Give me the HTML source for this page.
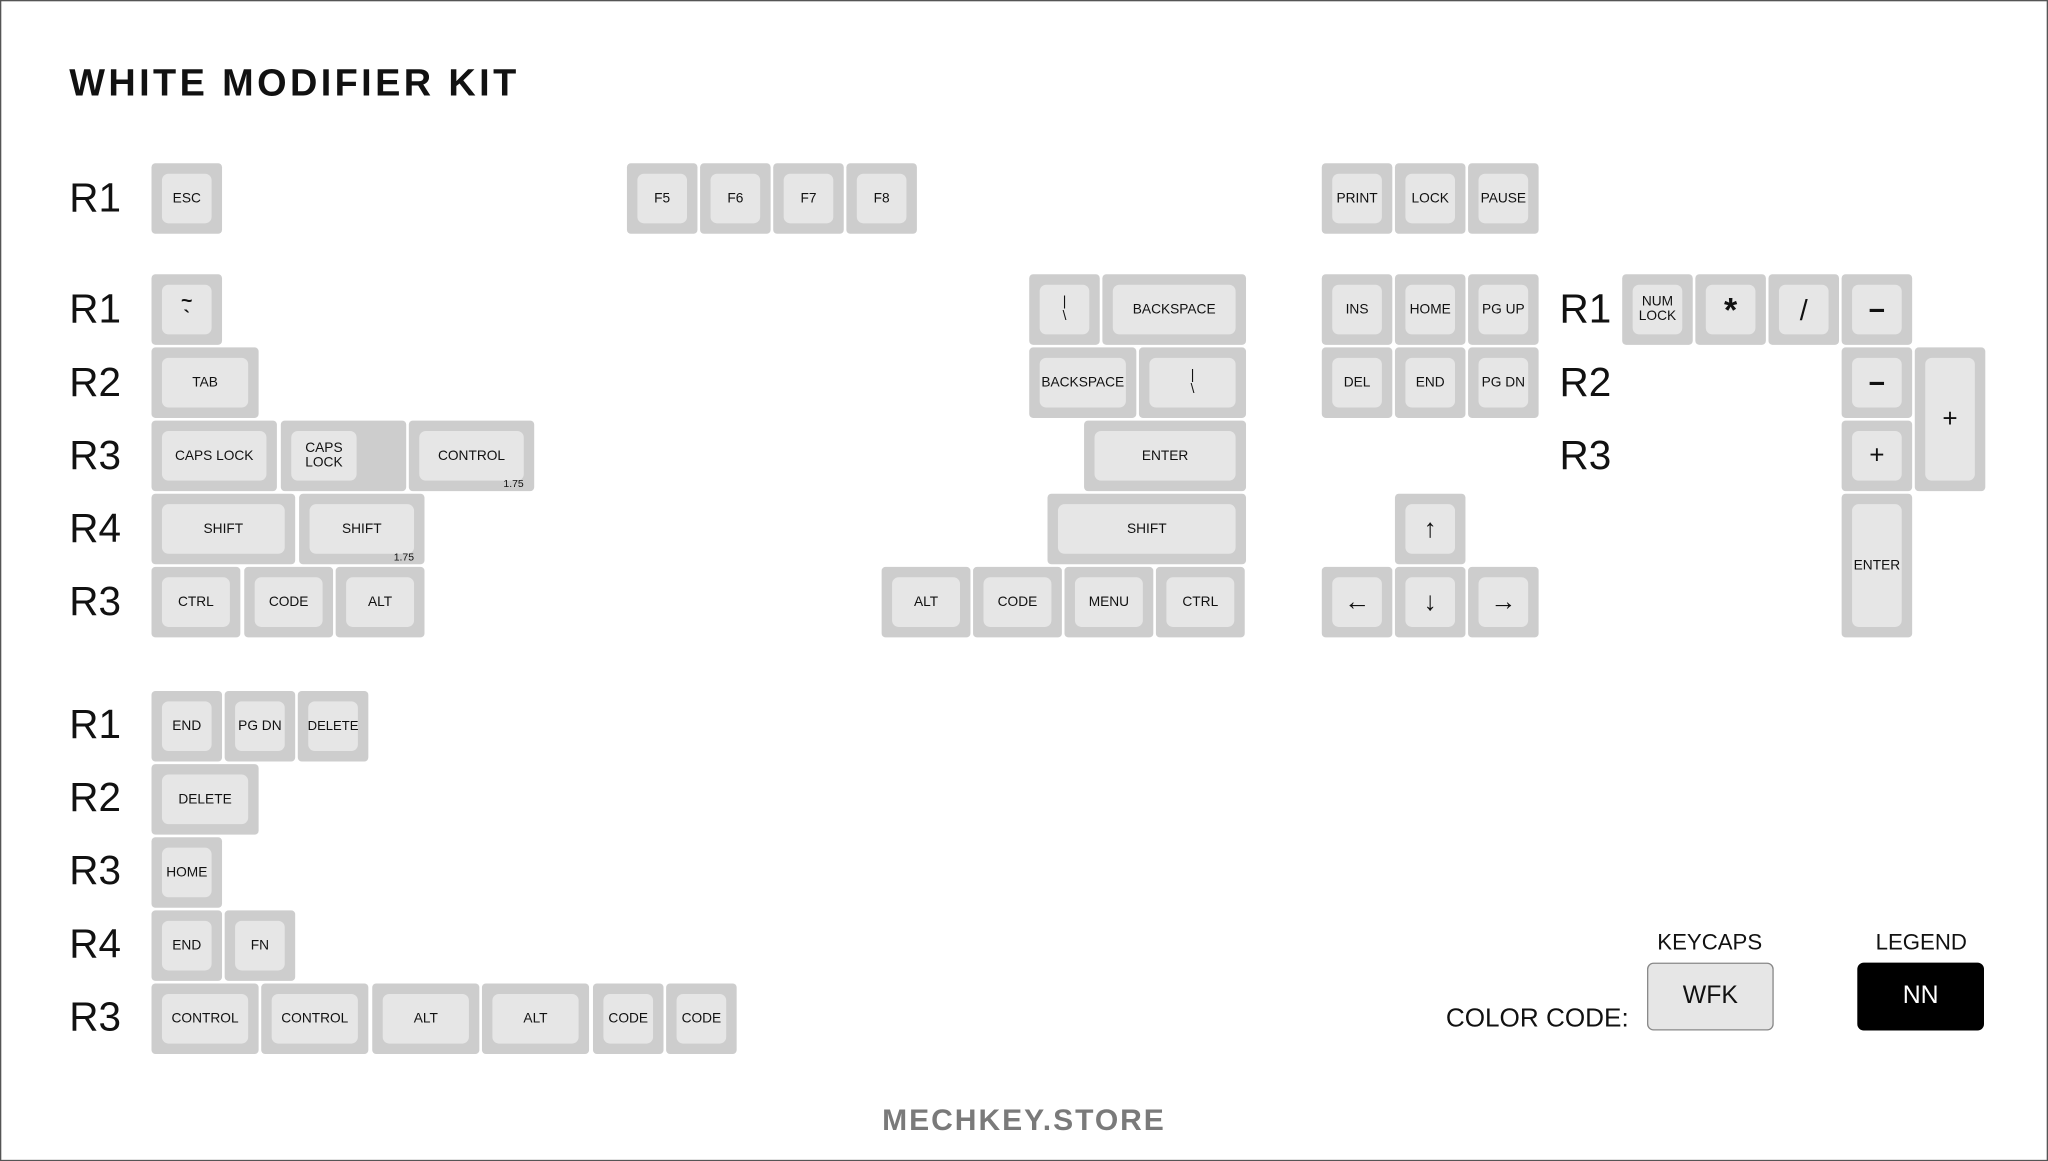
<!DOCTYPE html>
<html><head><meta charset="utf-8"><style>
html,body{margin:0;padding:0;background:#fff;}
body{width:2048px;height:1161px;overflow:hidden;position:relative;font-family:"Liberation Sans",sans-serif;}
#w{position:absolute;left:0;top:0;width:1568px;height:889px;transform:scale(1.30612);transform-origin:0 0;}
#bd{position:absolute;left:0;top:0;width:1566px;height:887px;border:1px solid #555;}
.k{position:absolute;background:#cdcdcd;border-radius:3px;height:54px;}
.t{height:110px;}
.i{position:absolute;left:8px;right:8px;top:8px;bottom:8px;background:#e6e6e6;border-radius:5px;display:flex;align-items:center;justify-content:center;text-align:center;font-size:10.5px;line-height:11px;color:#111;}
.s{font-size:8px;position:absolute;right:8px;bottom:1px;color:#111;}
.r{position:absolute;font-size:31px;color:#111;line-height:32px;}
</style></head><body><div id="w"><div id="bd"></div>
<div style="position:absolute;left:53px;top:48px;font-size:29px;font-weight:bold;letter-spacing:2.6px;color:#111;">WHITE MODIFIER KIT</div>

<div class="r" style="left:53px;top:136px">R1</div>
<div class="r" style="left:53px;top:221px">R1</div>
<div class="r" style="left:53px;top:277px">R2</div>
<div class="r" style="left:53px;top:333px">R3</div>
<div class="r" style="left:53px;top:389px">R4</div>
<div class="r" style="left:53px;top:445px">R3</div>
<div class="r" style="left:53px;top:539px">R1</div>
<div class="r" style="left:53px;top:595px">R2</div>
<div class="r" style="left:53px;top:651px">R3</div>
<div class="r" style="left:53px;top:707px">R4</div>
<div class="r" style="left:53px;top:763px">R3</div>
<div class="r" style="left:1194px;top:221px">R1</div>
<div class="r" style="left:1194px;top:277px">R2</div>
<div class="r" style="left:1194px;top:333px">R3</div>

<div class="k" style="left:116px;top:125px;width:54px"><div class="i">ESC</div></div>
<div class="k" style="left:480px;top:125px;width:54px"><div class="i">F5</div></div>
<div class="k" style="left:536px;top:125px;width:54px"><div class="i">F6</div></div>
<div class="k" style="left:592px;top:125px;width:54px"><div class="i">F7</div></div>
<div class="k" style="left:648px;top:125px;width:54px"><div class="i">F8</div></div>
<div class="k" style="left:1012px;top:125px;width:54px"><div class="i">PRINT</div></div>
<div class="k" style="left:1068px;top:125px;width:54px"><div class="i">LOCK</div></div>
<div class="k" style="left:1124px;top:125px;width:54px"><div class="i">PAUSE</div></div>

<div class="k" style="left:116px;top:210px;width:54px"><div class="i" style="font-size:15px;line-height:13px;font-weight:bold">~<br>`</div></div>
<div class="k" style="left:788px;top:210px;width:54px"><div class="i">|<br>\</div></div>
<div class="k" style="left:844px;top:210px;width:110px"><div class="i">BACKSPACE</div></div>
<div class="k" style="left:1012px;top:210px;width:54px"><div class="i">INS</div></div>
<div class="k" style="left:1068px;top:210px;width:54px"><div class="i">HOME</div></div>
<div class="k" style="left:1124px;top:210px;width:54px"><div class="i">PG UP</div></div>
<div class="k" style="left:1242px;top:210px;width:54px"><div class="i">NUM<br>LOCK</div></div>
<div class="k" style="left:1298px;top:210px;width:54px"><div class="i" style="font-size:26px;font-weight:bold">*</div></div>
<div class="k" style="left:1354px;top:210px;width:54px"><div class="i" style="font-size:22px">/</div></div>
<div class="k" style="left:1410px;top:210px;width:54px"><div class="i" style="font-size:22px;font-weight:bold">−</div></div>

<div class="k" style="left:116px;top:266px;width:82px"><div class="i">TAB</div></div>
<div class="k" style="left:788px;top:266px;width:82px"><div class="i">BACKSPACE</div></div>
<div class="k" style="left:872px;top:266px;width:82px"><div class="i">|<br>\</div></div>
<div class="k" style="left:1012px;top:266px;width:54px"><div class="i">DEL</div></div>
<div class="k" style="left:1068px;top:266px;width:54px"><div class="i">END</div></div>
<div class="k" style="left:1124px;top:266px;width:54px"><div class="i">PG DN</div></div>
<div class="k" style="left:1410px;top:266px;width:54px"><div class="i" style="font-size:22px;font-weight:bold">−</div></div>
<div class="k t" style="left:1466px;top:266px;width:54px"><div class="i" style="font-size:20px">+</div></div>

<div class="k" style="left:116px;top:322px;width:96px"><div class="i">CAPS LOCK</div></div>
<div class="k" style="left:215px;top:322px;width:96px"><div class="i" style="right:38px">CAPS<br>LOCK</div></div>
<div class="k" style="left:313px;top:322px;width:96px"><div class="i">CONTROL</div><span class="s">1.75</span></div>
<div class="k" style="left:830px;top:322px;width:124px"><div class="i">ENTER</div></div>
<div class="k" style="left:1410px;top:322px;width:54px"><div class="i" style="font-size:20px">+</div></div>

<div class="k" style="left:116px;top:378px;width:110px"><div class="i">SHIFT</div></div>
<div class="k" style="left:229px;top:378px;width:96px"><div class="i">SHIFT</div><span class="s">1.75</span></div>
<div class="k" style="left:802px;top:378px;width:152px"><div class="i">SHIFT</div></div>
<div class="k" style="left:1068px;top:378px;width:54px"><div class="i" style="font-size:20px">↑</div></div>
<div class="k t" style="left:1410px;top:378px;width:54px"><div class="i">ENTER</div></div>

<div class="k" style="left:116px;top:434px;width:68px"><div class="i">CTRL</div></div>
<div class="k" style="left:187px;top:434px;width:68px"><div class="i">CODE</div></div>
<div class="k" style="left:257px;top:434px;width:68px"><div class="i">ALT</div></div>
<div class="k" style="left:675px;top:434px;width:68px"><div class="i">ALT</div></div>
<div class="k" style="left:745px;top:434px;width:68px"><div class="i">CODE</div></div>
<div class="k" style="left:815px;top:434px;width:68px"><div class="i">MENU</div></div>
<div class="k" style="left:885px;top:434px;width:68px"><div class="i">CTRL</div></div>
<div class="k" style="left:1012px;top:434px;width:54px"><div class="i" style="font-size:20px">←</div></div>
<div class="k" style="left:1068px;top:434px;width:54px"><div class="i" style="font-size:20px">↓</div></div>
<div class="k" style="left:1124px;top:434px;width:54px"><div class="i" style="font-size:20px">→</div></div>

<div class="k" style="left:116px;top:529px;width:54px"><div class="i">END</div></div>
<div class="k" style="left:172px;top:529px;width:54px"><div class="i">PG DN</div></div>
<div class="k" style="left:228px;top:529px;width:54px"><div class="i" style="font-size:10px">DELETE</div></div>
<div class="k" style="left:116px;top:585px;width:82px"><div class="i">DELETE</div></div>
<div class="k" style="left:116px;top:641px;width:54px"><div class="i">HOME</div></div>
<div class="k" style="left:116px;top:697px;width:54px"><div class="i">END</div></div>
<div class="k" style="left:172px;top:697px;width:54px"><div class="i">FN</div></div>
<div class="k" style="left:116px;top:753px;width:82px"><div class="i">CONTROL</div></div>
<div class="k" style="left:200px;top:753px;width:82px"><div class="i">CONTROL</div></div>
<div class="k" style="left:285px;top:753px;width:82px"><div class="i">ALT</div></div>
<div class="k" style="left:369px;top:753px;width:82px"><div class="i">ALT</div></div>
<div class="k" style="left:454px;top:753px;width:54px"><div class="i">CODE</div></div>
<div class="k" style="left:510px;top:753px;width:54px"><div class="i">CODE</div></div>

<div style="position:absolute;left:1090px;top:769px;width:157px;text-align:right;font-size:20px;color:#111">COLOR CODE:</div>
<div style="position:absolute;left:1249px;top:712px;width:120px;text-align:center;font-size:17px;color:#111">KEYCAPS</div>
<div style="position:absolute;left:1261px;top:737px;width:95px;height:50px;background:#e6e6e6;border:1px solid #888;border-radius:5px;display:flex;align-items:center;justify-content:center;font-size:19px;color:#111">WFK</div>
<div style="position:absolute;left:1411px;top:712px;width:120px;text-align:center;font-size:17px;color:#111">LEGEND</div>
<div style="position:absolute;left:1422px;top:737px;width:97px;height:52px;background:#000;border-radius:5px;display:flex;align-items:center;justify-content:center;font-size:19px;color:#fff">NN</div>

<div style="position:absolute;left:584px;top:844px;width:400px;text-align:center;font-size:23px;font-weight:bold;color:#7a7a7a;letter-spacing:1.5px">MECHKEY.STORE</div>
</div></body></html>
